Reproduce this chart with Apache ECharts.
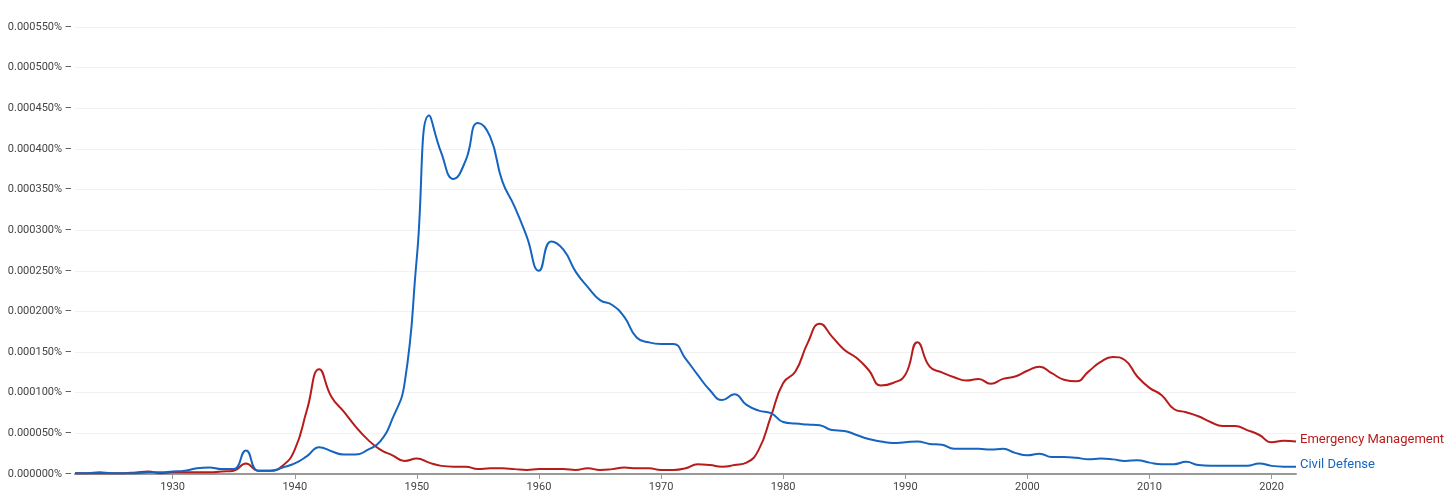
<!DOCTYPE html>
<html>
<head>
<meta charset="utf-8">
<script src="https://cdn.jsdelivr.net/npm/echarts@6/dist/echarts.min.js"></script>
<style>
  html, body { margin: 0; padding: 0; background: #fff; }
  #chart { width: 1456px; height: 503px; }
</style>
</head>
<body>
<div id="chart"></div>
<script>
// years 1922..2022
const years = [];
for (let y = 1922; y <= 2022; y++) years.push(y);

// values in units of 0.000001 %
const civilDefense = [
  1, 1, 2, 1, 1, 1, 2, 2, 3, 4,          // 1922-1931
  7, 8, 6, 6, 29, 4, 4, 8, 13, 22,       // 1932-1941
  33, 28, 24, 24, 30, 40, 68, 112, 267, 441, // 1942-1951
  395, 363, 386, 432, 415, 360, 329, 292, 250, 286, // 1952-1961
  276, 249, 230, 214, 208, 193, 168, 162, 160, 160, // 1962-1971
  142, 122, 103, 91, 98, 85, 78, 75, 64, 62,  // 1972-1981
  61, 60, 54, 53, 48, 43, 40, 38, 39, 40,     // 1982-1991
  37, 36, 31, 31, 31, 30, 31, 26, 23, 25,     // 1992-2001
  21, 21, 20, 18, 19, 18, 16, 17, 14, 12,     // 2002-2011
  12, 15, 11, 10, 10, 10, 10, 13, 10, 9,      // 2012-2021
  9                                           // 2022
];

const emergencyManagement = [
  1, 1, 1, 1, 1, 2, 3, 1, 2, 2,          // 1922-1931
  2, 2, 3, 4, 13, 4, 4, 10, 30, 79,      // 1932-1941
  129, 95, 77, 58, 42, 30, 23, 16, 19, 14, // 1942-1951
  10, 9, 9, 6, 7, 7, 6, 5, 6, 6,         // 1952-1961
  6, 5, 7, 5, 6, 8, 7, 7, 5, 5,          // 1962-1971
  7, 12, 11, 9, 11, 14, 30, 71, 112, 126, // 1972-1981
  161, 185, 169, 153, 143, 128, 109, 112, 122, 162, // 1982-1991
  132, 125, 119, 115, 117, 111, 117, 120, 127, 132, // 1992-2001
  124, 116, 114, 126, 138, 144, 140, 120, 106, 97,  // 2002-2011
  80, 76, 71, 64, 59, 59, 54, 48, 39, 41,           // 2012-2021
  40                                                // 2022
];

const seriesNames = ['Emergency Management', 'Civil Defense'];
const seriesColors = ['#b71c1c', '#1565c0'];

const chart = echarts.init(document.getElementById('chart'));

function makeSeries(name, data, color) {
  return {
    name: name,
    type: 'line',
    data: data,
    smooth: 0.5,
    symbol: 'none',
    lineStyle: { width: 2, color: color },
    itemStyle: { color: color },
    endLabel: {
      show: true,
      formatter: '{a}',
      color: color,
      fontFamily: 'Roboto',
      fontSize: 13,
      distance: 4,
      offset: [0, -2]
    }
  };
}

chart.setOption({
  animation: false,
  grid: { left: 75, right: 160, top: 27, bottom: 29, containLabel: false },
  xAxis: {
    type: 'category',
    data: years,
    boundaryGap: false,
    axisLine: { lineStyle: { color: '#999', width: 2 } },
    axisTick: {
      show: true,
      length: 5,
      interval: (i, v) => Number(v) % 10 === 0,
      lineStyle: { color: '#999' }
    },
    axisLabel: {
      interval: (i, v) => Number(v) % 10 === 0,
      color: '#444',
      fontFamily: 'Roboto',
      fontSize: 11,
      margin: 8
    },
    splitLine: { show: false }
  },
  yAxis: {
    type: 'value',
    min: 0,
    max: 550,
    interval: 50,
    axisLine: { show: false },
    axisTick: { show: false },
    axisLabel: {
      formatter: v => (v / 1e6).toFixed(6) + '% –',
      color: '#444',
      fontFamily: 'Roboto',
      fontSize: 11,
      margin: 3
    },
    splitLine: { lineStyle: { color: '#f2f2f2', width: 1 } }
  },
  series: [
    makeSeries(seriesNames[0], emergencyManagement, seriesColors[0]),
    makeSeries(seriesNames[1], civilDefense, seriesColors[1])
  ]
});
</script>
</body>
</html>
